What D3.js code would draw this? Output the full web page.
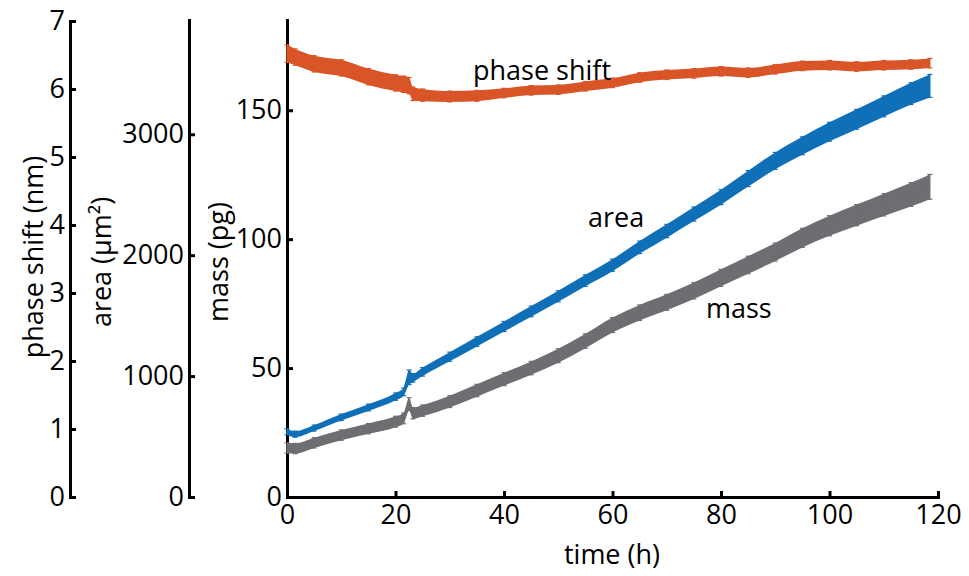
<!DOCTYPE html>
<html>
<head>
<meta charset="utf-8">
<script src="https://cdn.jsdelivr.net/npm/d3@7"></script>
<style>
  html, body { margin: 0; padding: 0; background: #fff; }
  svg { display: block; font-family: "Open Sans", "Noto Sans", sans-serif; }
</style>
</head>
<body>
<svg id="chart" width="969" height="576"></svg>
<script>
// ---- data ----
const time = [0, 1.5, 5, 10, 15, 20, 21.5, 22.5, 23.2, 25, 30, 35, 40, 45, 50, 55, 60, 65, 70, 75, 80, 85, 90, 95, 100, 105, 110, 115, 118.5];

const massValues = [19, 18.8, 21, 24, 26.5, 29.2, 30.5, 36, 32.5, 33.5, 37, 41.3, 45.7, 50, 54.8, 60.5, 66.7, 71.5, 75.5, 80, 85, 90, 95, 100.5, 105.2, 109.3, 113.3, 117.3, 120.3];
const massErr   = [2.0, 2.0, 2.0, 2.0, 2.0, 2.1, 2.1, 2.5, 2.2, 2.2, 2.3, 2.4, 2.5, 2.6, 2.7, 2.8, 2.9, 3.0, 3.1, 3.2, 3.3, 3.4, 3.5, 3.7, 3.9, 4.1, 4.3, 4.6, 4.8];

const areaValues = [540, 520, 570, 659, 740, 830, 870, 990, 985, 1035, 1160, 1285, 1410, 1535, 1660, 1790, 1917, 2065, 2200, 2340, 2480, 2633, 2780, 2905, 3021, 3124, 3231, 3336, 3400];
const areaErr    = [25, 25, 25, 27, 28, 30, 32, 60, 35, 35, 38, 40, 42, 44, 46, 48, 50, 52, 55, 58, 62, 66, 70, 74, 78, 82, 86, 90, 95];

const phaseValues = [6.52, 6.47, 6.37, 6.31, 6.18, 6.09, 6.07, 6.05, 5.93, 5.91, 5.89, 5.90, 5.94, 5.98, 5.99, 6.04, 6.09, 6.17, 6.21, 6.23, 6.26, 6.24, 6.29, 6.34, 6.35, 6.33, 6.35, 6.36, 6.38];
const phaseErr    = [0.13, 0.12, 0.12, 0.12, 0.12, 0.12, 0.12, 0.12, 0.10, 0.09, 0.08, 0.08, 0.07, 0.07, 0.07, 0.07, 0.07, 0.07, 0.07, 0.07, 0.07, 0.07, 0.07, 0.07, 0.07, 0.07, 0.07, 0.07, 0.07];

const xTicks = [0, 20, 40, 60, 80, 100, 120];
const phaseTicks = [0, 1, 2, 3, 4, 5, 6, 7];
const areaTicks = [0, 1000, 2000, 3000];
const massTicks = [0, 50, 100, 150];

const seriesLabels = ["phase shift", "area", "mass"];
const axisTitles = ["time (h)", "phase shift (nm)", "area (\u03BCm\u00B2)", "mass (pg)"];

// ---- layout ----
const svg = d3.select("#chart");
const FS = 27;
const x = d3.scaleLinear().domain([0, 120]).range([287, 938]);
const yPhase = d3.scaleLinear().domain([0, 7]).range([497, 21]);
const yArea = d3.scaleLinear().domain([0, 3945]).range([497, 20]);
const yMass = d3.scaleLinear().domain([0, 185]).range([497, 20]);

const colors = { phase: "#D95528", area: "#0F6FB7", mass: "#6E6E72" };

function styleAxis(g) {
  g.selectAll("path.domain").attr("stroke", "#000").attr("stroke-width", 3).attr("stroke-linecap", "square");
  g.selectAll(".tick line").attr("stroke", "#000").attr("stroke-width", 3);
  g.selectAll(".tick text").attr("font-size", FS).attr("fill", "#000").attr("font-family", "\"Open Sans\", sans-serif");
}

// y axes (ticks point inward to the right, labels on the left)
const axes = [
  { scale: yPhase, ticks: phaseTicks, xpos: 70 },
  { scale: yArea, ticks: areaTicks, xpos: 189 },
  { scale: yMass, ticks: massTicks, xpos: 287 }
];
axes.forEach(a => {
  const g = svg.append("g").attr("transform", `translate(${a.xpos},0)`)
    .call(d3.axisLeft(a.scale).tickValues(a.ticks).tickFormat(d3.format("d"))
      .tickSizeInner(-6).tickSizeOuter(0).tickPadding(5));
  styleAxis(g);
});

// x axis
const gx = svg.append("g").attr("transform", "translate(0,497)")
  .call(d3.axisBottom(x).tickValues(xTicks).tickFormat(d3.format("d"))
    .tickSizeInner(-6).tickSizeOuter(0).tickPadding(8));
styleAxis(gx);

// ---- series ----
function drawSeries(vals, errs, y, color) {
  const data = time.map((t, i) => ({ t, v: vals[i], e: errs[i] }));
  const g = svg.append("g");
  g.append("path").datum(data)
    .attr("fill", color)
    .attr("d", d3.area().x(d => x(d.t)).y0(d => y(d.v - d.e)).y1(d => y(d.v + d.e)).curve(d3.curveMonotoneX));
  g.append("path").datum(data)
    .attr("fill", "none").attr("stroke", color).attr("stroke-width", 3)
    .attr("d", d3.line().x(d => x(d.t)).y(d => y(d.v)).curve(d3.curveMonotoneX));
  // error bars
  const eb = g.selectAll("g.eb").data(data).join("g").attr("class", "eb")
    .attr("stroke", color).attr("stroke-width", 1.2);
  eb.append("line").attr("x1", d => x(d.t)).attr("x2", d => x(d.t))
    .attr("y1", d => y(d.v - d.e)).attr("y2", d => y(d.v + d.e));
  eb.append("line").attr("x1", d => x(d.t) - 2.5).attr("x2", d => x(d.t) + 2.5)
    .attr("y1", d => y(d.v - d.e)).attr("y2", d => y(d.v - d.e));
  eb.append("line").attr("x1", d => x(d.t) - 2.5).attr("x2", d => x(d.t) + 2.5)
    .attr("y1", d => y(d.v + d.e)).attr("y2", d => y(d.v + d.e));
}
drawSeries(massValues, massErr, yMass, colors.mass);
drawSeries(areaValues, areaErr, yArea, colors.area);
drawSeries(phaseValues, phaseErr, yPhase, colors.phase);

// ---- in-plot labels ----
const labelPos = [[473, 80], [588, 227], [706, 318]];
seriesLabels.forEach((s, i) => {
  svg.append("text").attr("x", labelPos[i][0]).attr("y", labelPos[i][1])
    .attr("font-size", FS).attr("fill", "#000").text(s);
});

// ---- axis titles ----
svg.append("text").attr("x", 612).attr("y", 564).attr("text-anchor", "middle")
  .attr("font-size", FS).attr("fill", "#000").text(axisTitles[0]);
const titlePos = [[43, 257], [111, 262], [228, 262]];
titlePos.forEach((p, i) => {
  svg.append("text").attr("transform", `translate(${p[0]},${p[1]}) rotate(-90)`)
    .attr("text-anchor", "middle").attr("font-size", FS).attr("fill", "#000")
    .text(axisTitles[i + 1]);
});
</script>
</body>
</html>
